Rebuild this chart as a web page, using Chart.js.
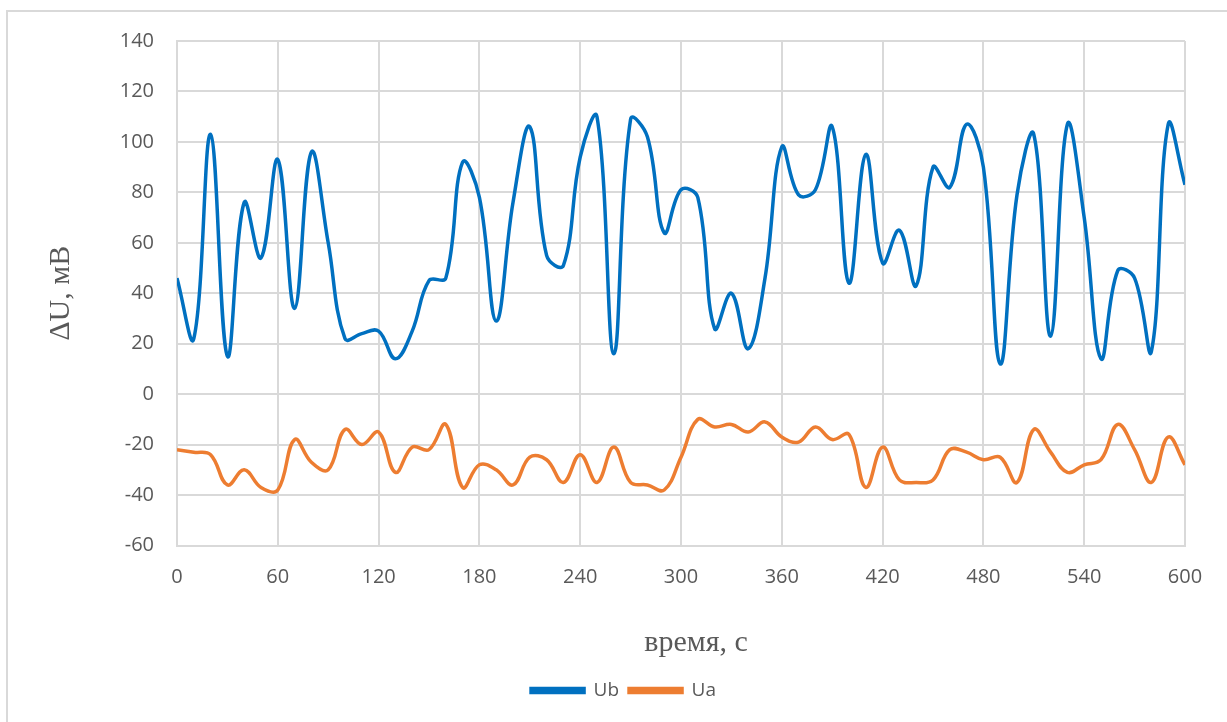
<!DOCTYPE html>
<html>
<head>
<meta charset="utf-8">
<script src="https://cdn.jsdelivr.net/npm/chart.js@4.4.1/dist/chart.umd.min.js"></script>
<style>
    html, body { margin: 0; padding: 0; background: #fff; overflow: hidden; }
    #frame { position: absolute; left: 6px; top: 10px; width: 1300px; height: 800px;
             border-left: 2px solid #d9d9d9; border-top: 2px solid #d9d9d9; }
    #wrap { position: absolute; left: 0; top: 0; width: 1227px; height: 722px; }
</style>
</head>
<body>
<div id="frame"></div>
<div id="wrap"><canvas id="myChart" width="1227" height="722"></canvas></div>
<script>
// time, s (one reading every 10 s)
var times = [0, 10, 20, 30, 40, 50, 60, 70, 80, 90,
    100, 110, 120, 130, 140, 150, 160, 170, 180, 190,
    200, 210, 220, 230, 240, 250, 260, 270, 280, 290,
    300, 310, 320, 330, 340, 350, 360, 370, 380, 390,
    400, 410, 420, 430, 440, 450, 460, 470, 480, 490,
    500, 510, 520, 530, 540, 550, 560, 570, 580, 590, 600];

// ΔU, mV
var ub = [46, 22, 103, 15, 76, 54, 93, 34, 96, 60,
    22, 24, 25, 14, 25, 45, 46, 92, 78, 29,
    76, 106, 55, 51, 94, 110, 16, 109, 102, 64,
    81, 78, 26, 40, 18, 46, 98, 79, 81, 106,
    44, 95, 52, 65, 43, 90, 82, 107, 90, 12,
    79, 103, 23, 107, 70, 14, 49, 46, 17, 107, 83];

var ua = [-22, -23, -24, -36, -30, -37, -38, -18, -27, -30,
    -14, -20, -15, -31, -21, -22, -12, -37, -28, -30,
    -36, -25, -26, -35, -24, -35, -21, -35, -36, -38,
    -25, -10, -13, -12, -15, -11, -17, -19, -13, -18,
    -16, -37, -21, -34, -35, -34, -22, -23, -26, -25,
    -35, -14, -23, -31, -28, -26, -12, -22, -35, -17, -28];

var xTicks = [0, 60, 120, 180, 240, 300, 360, 420, 480, 540, 600];
var yTicks = [-60, -40, -20, 0, 20, 40, 60, 80, 100, 120, 140];

var gridColor = '#d9d9d9';
var textColor = '#595959';

Chart.defaults.font.family = '"Open Sans", sans-serif';
Chart.defaults.font.size = 20;
Chart.defaults.color = textColor;

function points(values) {
    return times.map(function(t, i) {
        return { x: t, y: values[i] };
    });
}

// x title is centred a bit right of the plot area, so draw it ourselves
var xTitlePlugin = {
    id: 'xTitle',
    afterDraw: function(chart) {
        var ctx = chart.ctx;
        ctx.save();
        ctx.font = '30px "Liberation Serif", "DejaVu Serif", serif';
        ctx.fillStyle = textColor;
        ctx.textAlign = 'center';
        ctx.textBaseline = 'middle';
        ctx.fillText('время, с', 696, 643);
        ctx.restore();
    }
};

document.addEventListener('DOMContentLoaded', function() {
    var ctx = document.getElementById('myChart').getContext('2d');

    new Chart(ctx, {
        type: 'line',
        data: {
            datasets: [{
                label: 'Ub',
                data: points(ub),
                borderColor: '#0070c0',
                backgroundColor: '#0070c0',
                borderWidth: 3.5,
                pointRadius: 0,
                tension: 0.4
            }, {
                label: 'Ua',
                data: points(ua),
                borderColor: '#ed7d31',
                backgroundColor: '#ed7d31',
                borderWidth: 3.5,
                pointRadius: 0,
                tension: 0.4
            }]
        },
        options: {
            responsive: false,
            animation: false,
            layout: { padding: { left: 20, right: 0, top: 41, bottom: 12 } },
            plugins: {
                tooltip: { enabled: false },
                legend: {
                    position: 'bottom',
                    labels: {
                        boxWidth: 53,
                        boxHeight: 4,
                        padding: 10,
                        color: textColor,
                        font: { size: 19 }
                    }
                }
            },
            scales: {
                x: {
                    type: 'linear',
                    min: 0,
                    max: 600,
                    afterBuildTicks: function(scale) {
                        scale.ticks = xTicks.map(function(v) { return { value: v }; });
                    },
                    afterFit: function(scale) { scale.height = 125.5; },
                    grid: { color: gridColor, lineWidth: 2, drawTicks: false },
                    border: { color: gridColor, width: 2 },
                    ticks: { padding: 20, maxRotation: 0, color: textColor }
                },
                y: {
                    min: -60,
                    max: 140,
                    afterBuildTicks: function(scale) {
                        scale.ticks = yTicks.map(function(v) { return { value: v }; });
                    },
                    afterFit: function(scale) { scale.width = 157; },
                    grid: { color: gridColor, lineWidth: 2, drawTicks: false },
                    border: { color: gridColor, width: 2 },
                    ticks: { padding: 23, color: textColor },
                    title: {
                        display: true,
                        text: 'ΔU, мВ',
                        color: textColor,
                        padding: { top: 23, bottom: 0 },
                        font: { family: '"Liberation Serif", "DejaVu Serif", serif', size: 30 }
                    }
                },
                // empty right-hand strip, keeps the plot 42px from the edge
                y2: {
                    position: 'right',
                    min: -60,
                    max: 140,
                    afterFit: function(scale) { scale.width = 42; },
                    grid: { display: false },
                    border: { display: false },
                    ticks: { display: false }
                }
            }
        },
        plugins: [xTitlePlugin]
    });
});
</script>
</body>
</html>
